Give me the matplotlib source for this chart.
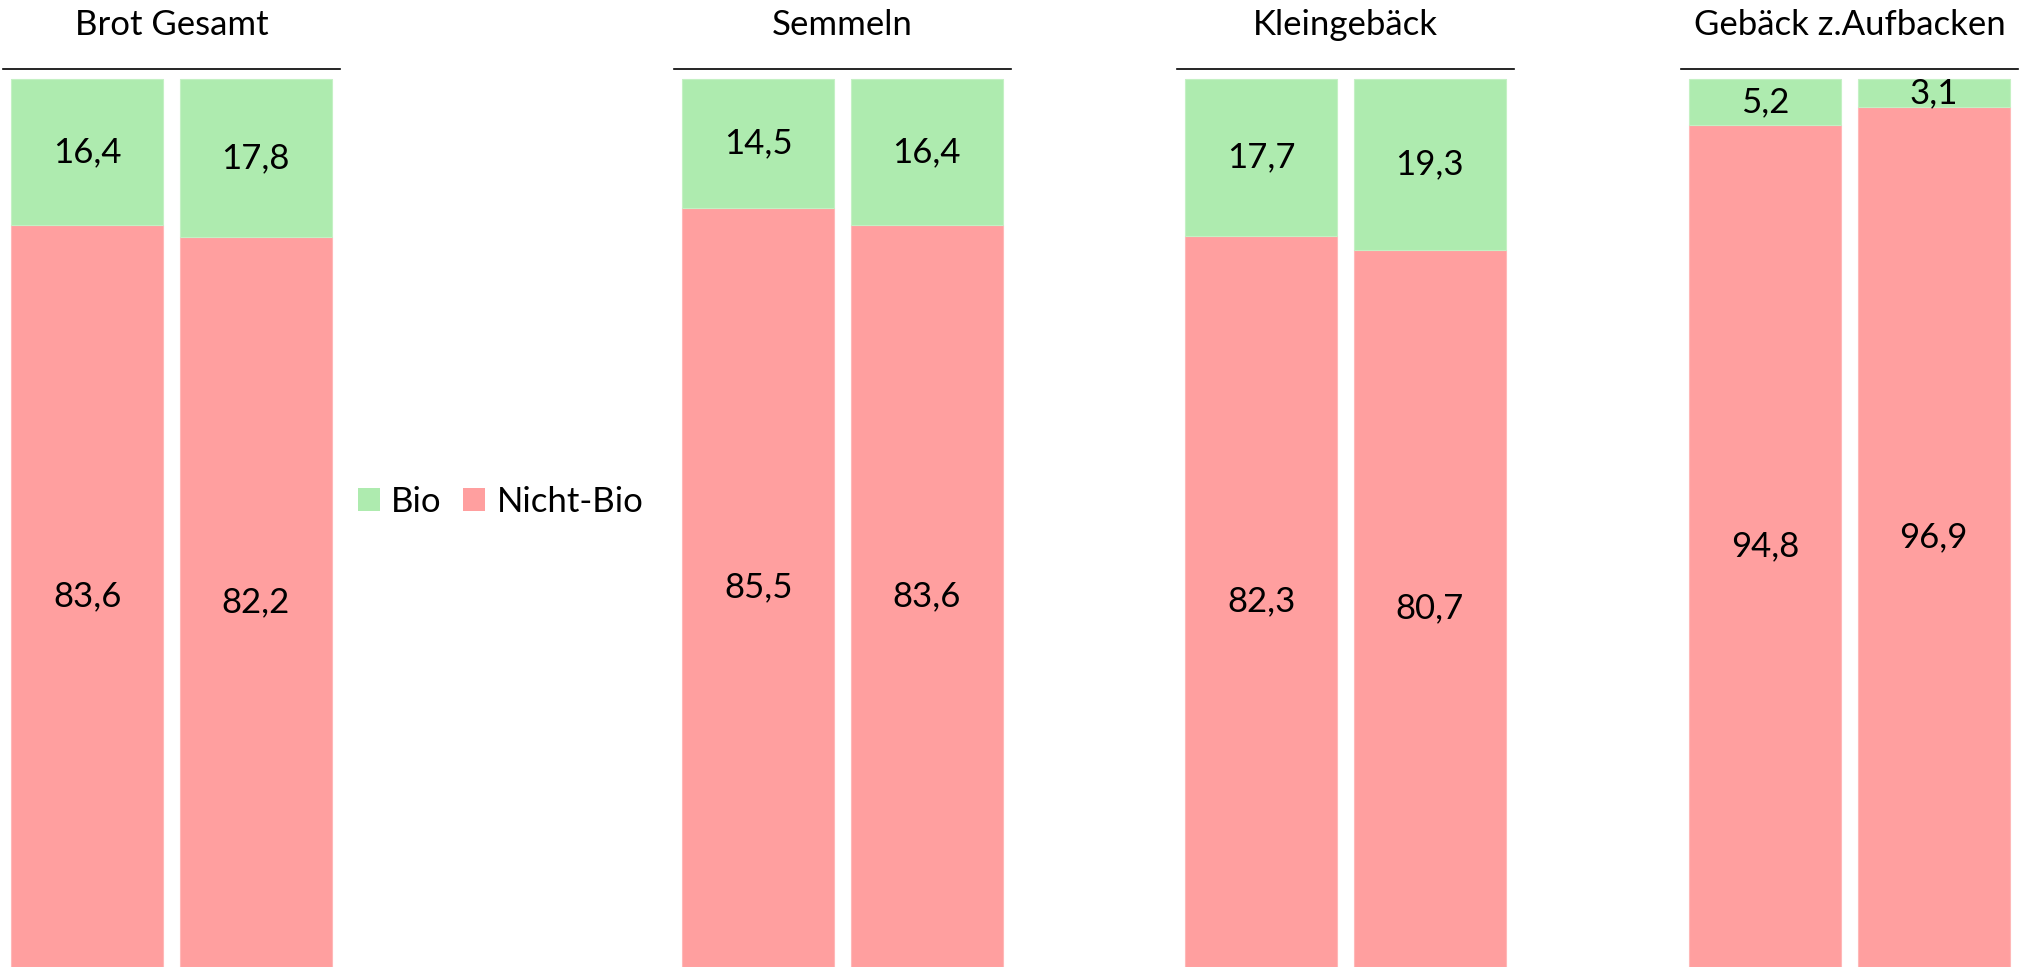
import numpy as np
import matplotlib
matplotlib.use("Agg")
import matplotlib.pyplot as plt
from matplotlib.patches import Patch

# Daten: Anteil in Prozent, je Kategorie zwei Balken
kategorien = ["Brot Gesamt", "Semmeln", "Kleingebäck", "Gebäck z.Aufbacken"]
bio = [[16.4, 17.8], [14.5, 16.4], [17.7, 19.3], [5.2, 3.1]]
nicht_bio = [[83.6, 82.2], [85.5, 83.6], [82.3, 80.7], [94.8, 96.9]]

FARBE_BIO = "#aeebaf"
FARBE_NICHT = "#ff9f9f"

plt.rcParams["font.family"] = ["Lato", "DejaVu Sans"]

W, H = 2021, 967
fig = plt.figure(figsize=(W / 100, H / 100), dpi=100)

# Achsenpositionen in Pixeln (links, Breite), Linie oben bei y=69
links_px = [3, 674, 1177, 1681]
breite_px = 337
oben_px = 69
balken_oben_px = 79
ymax = 100 * (H - oben_px) / (H - balken_oben_px)
fs = 25

for i, name in enumerate(kategorien):
    ax = fig.add_axes([links_px[i] / W, 0, breite_px / W, (H - oben_px) / H])
    x = np.arange(2)
    ax.bar(x, nicht_bio[i], width=0.905, color=FARBE_NICHT, edgecolor="#ffb8b8", linewidth=0.8)
    ax.bar(x, bio[i], bottom=nicht_bio[i], width=0.905, color=FARBE_BIO, edgecolor="#c4f1c4", linewidth=0.8)
    for j in range(2):
        ax.text(x[j], nicht_bio[i][j] / 2, f"{nicht_bio[i][j]:.1f}".replace(".", ","),
                ha="center", va="center", fontsize=fs)
        ax.text(x[j], nicht_bio[i][j] + bio[i][j] / 2, f"{bio[i][j]:.1f}".replace(".", ","),
                ha="center", va="center", fontsize=fs)
    ax.set_xlim(-0.5, 1.5)
    ax.set_ylim(0, ymax)
    for s in ["left", "right", "bottom"]:
        ax.spines[s].set_visible(False)
    ax.spines["top"].set_linewidth(1.2)
    ax.set_xticks([])
    ax.set_yticks([])
    fig.text((links_px[i] + breite_px / 2) / W, 1 - 25 / H, name,
             ha="center", va="center", fontsize=fs)

handles = [Patch(facecolor=FARBE_BIO, label="Bio"), Patch(facecolor=FARBE_NICHT, label="Nicht-Bio")]
fig.legend(handles=handles, loc="center left", bbox_to_anchor=(358 / W, 1 - 502 / H),
           ncol=2, frameon=False, fontsize=fs, borderpad=0, borderaxespad=0,
           handlelength=0.63, handleheight=0.63, handletextpad=0.32, columnspacing=0.63)

fig.savefig("out.png", dpi=100)
